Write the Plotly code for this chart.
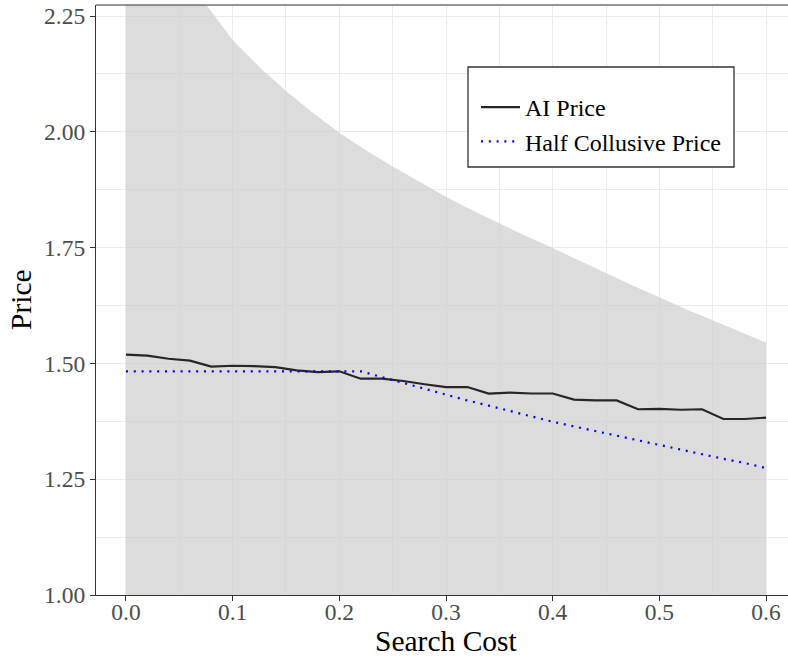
import plotly.graph_objects as go

# Search cost grid for the simulated price paths
search_cost = [0.00, 0.02, 0.04, 0.06, 0.08, 0.10, 0.12, 0.14, 0.16, 0.18,
               0.20, 0.22, 0.24, 0.26, 0.28, 0.30, 0.32, 0.34, 0.36, 0.38,
               0.40, 0.42, 0.44, 0.46, 0.48, 0.50, 0.52, 0.54, 0.56, 0.58, 0.60]

ai_price = [1.519, 1.517, 1.510, 1.506, 1.493, 1.495, 1.494, 1.492, 1.485, 1.481,
            1.483, 1.467, 1.467, 1.462, 1.455, 1.449, 1.449, 1.435, 1.437, 1.435,
            1.435, 1.422, 1.420, 1.420, 1.401, 1.402, 1.400, 1.401, 1.380, 1.380, 1.383]

half_collusive_price = [1.483, 1.483, 1.483, 1.483, 1.483, 1.483, 1.483, 1.483, 1.483, 1.483,
                        1.483, 1.483, 1.4705, 1.458, 1.445, 1.432, 1.420, 1.409, 1.397, 1.385,
                        1.374, 1.364, 1.354, 1.343, 1.333, 1.323, 1.314, 1.304, 1.294, 1.285, 1.274]

# Feasible price band (shaded region)
band_cost = [0.000, 0.025, 0.050, 0.075, 0.100, 0.125, 0.150, 0.175, 0.200, 0.225,
             0.250, 0.275, 0.300, 0.325, 0.350, 0.375, 0.400, 0.425, 0.450, 0.475,
             0.500, 0.525, 0.550, 0.575, 0.600]
band_upper = [3.100, 2.620, 2.420, 2.275, 2.198, 2.140, 2.088, 2.041, 1.998, 1.960,
              1.925, 1.892, 1.860, 1.830, 1.802, 1.775, 1.749, 1.722, 1.695, 1.668,
              1.643, 1.617, 1.593, 1.569, 1.545]
band_lower = [1.0] * len(band_cost)

x_ticks = [0.0, 0.1, 0.2, 0.3, 0.4, 0.5, 0.6]
y_ticks = [1.00, 1.25, 1.50, 1.75, 2.00, 2.25]

SERIF = "Liberation Serif, Times New Roman, serif"
AXIS_COL = "#333333"
TICK_COL = "#4D4D4D"
GRID_COL = "#EBEBEB"

# Panel geometry in pixels
W, H = 788, 657
ML, MR, MT, MB = 96, 0, 5, 62
PW, PH = W - ML - MR, H - MT - MB


def px_x(px):
    return (px - ML) / PW


def px_y(py):
    return 1 - (py - MT) / PH


fig = go.Figure()

fig.add_trace(go.Scatter(
    x=band_cost + band_cost[::-1],
    y=band_upper + band_lower[::-1],
    fill="toself",
    fillcolor="rgba(205,205,205,0.7)",
    line=dict(width=0),
    mode="lines",
    hoverinfo="skip",
    showlegend=False,
))

fig.add_trace(go.Scatter(
    x=search_cost, y=ai_price, mode="lines", name="AI Price",
    line=dict(color="#262626", width=2.2),
))

fig.add_trace(go.Scatter(
    x=search_cost, y=half_collusive_price, mode="lines", name="Half Collusive Price",
    line=dict(color="#0000FF", width=2.2, dash="2px,5.8px"),
))

fig.update_layout(
    width=W, height=H,
    margin=dict(l=ML, r=MR, t=MT, b=MB, autoexpand=False),
    paper_bgcolor="white", plot_bgcolor="white",
    font=dict(family=SERIF, color="black"),
    legend=dict(
        x=px_x(476), y=px_y(85), xanchor="left", yanchor="top",
        bgcolor="rgba(0,0,0,0)", borderwidth=0,
        font=dict(family=SERIF, size=24, color="black"),
        itemwidth=39,
    ),
    shapes=[
        # top edge of the panel border
        dict(type="line", xref="paper", yref="paper", x0=0, x1=1, y0=1, y1=1,
             line=dict(color=AXIS_COL, width=1.2)),
        # legend frame
        dict(type="rect", xref="paper", yref="paper", layer="above",
             x0=px_x(468), x1=px_x(734), y0=px_y(167), y1=px_y(67),
             fillcolor="white", line=dict(color=AXIS_COL, width=1.3)),
    ],
    annotations=[
        dict(text="Search Cost", xref="paper", yref="paper",
             x=px_x(446.5), y=px_y(641), xanchor="center", yanchor="middle",
             showarrow=False, font=dict(family=SERIF, size=29.5, color="black")),
        dict(text="Price", xref="paper", yref="paper", textangle=-90,
             x=px_x(21), y=0.5, xanchor="center", yanchor="middle",
             showarrow=False, font=dict(family=SERIF, size=29.5, color="black")),
    ],
)

fig.update_xaxes(
    range=[-0.0281, 0.6206], automargin=False,
    tickvals=x_ticks, ticktext=[f"{v:.1f}" for v in x_ticks],
    showline=True, linecolor=AXIS_COL, linewidth=1.2,
    ticks="outside", ticklen=5, tickcolor=AXIS_COL, tickwidth=1.2,
    ticklabelstandoff=-9,
    tickfont=dict(family=SERIF, size=23.5, color=TICK_COL),
    showgrid=True, gridcolor=GRID_COL, gridwidth=1.2,
    minor=dict(dtick=0.05, tick0=0, showgrid=True, gridcolor=GRID_COL, gridwidth=0.6),
    zeroline=False,
)

fig.update_yaxes(
    range=[1.0, 2.2738], automargin=False,
    tickvals=y_ticks, ticktext=[f"{v:.2f}" for v in y_ticks],
    showline=True, linecolor=AXIS_COL, linewidth=1.2,
    ticks="outside", ticklen=5, tickcolor=AXIS_COL, tickwidth=1.2,
    tickfont=dict(family=SERIF, size=23.5, color=TICK_COL),
    showgrid=True, gridcolor=GRID_COL, gridwidth=1.2,
    minor=dict(dtick=0.125, tick0=1.0, showgrid=True, gridcolor=GRID_COL, gridwidth=0.6),
    zeroline=False,
)

fig.write_html("out.html")
